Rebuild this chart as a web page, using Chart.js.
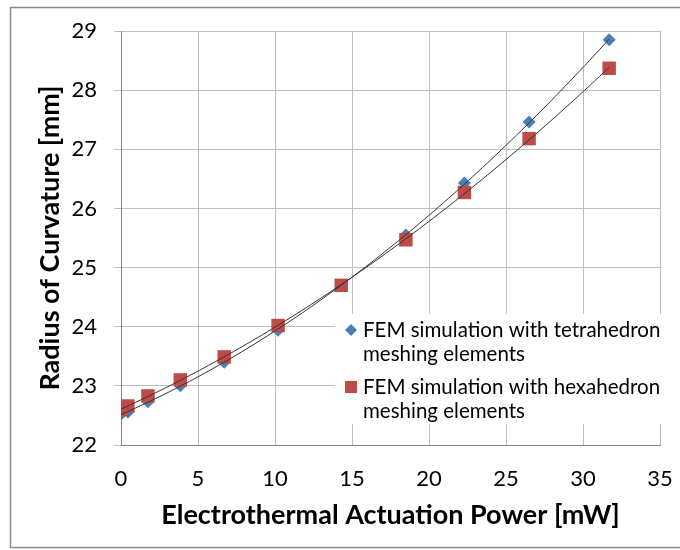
<!DOCTYPE html>
<html>
<head>
<meta charset="utf-8">
<script src="https://cdn.jsdelivr.net/npm/chart.js@4.4.1/dist/chart.umd.min.js"></script>
<style>
  html, body { margin: 0; padding: 0; background: #fff; }
  canvas { display: block; }
</style>
</head>
<body>
<canvas id="curvature-chart" width="680" height="550"></canvas>
<script>
// values
var powerTetra = [0, 0.45, 1.75, 3.85, 6.7, 10.2, 14.3, 18.5, 22.3, 26.5, 31.7];
var radiusTetra = [22.52, 22.56, 22.73, 23.0, 23.4, 23.94, 24.7, 25.55, 26.43, 27.46, 28.85];
var powerHexa = [0, 0.45, 1.75, 3.85, 6.7, 10.2, 14.3, 18.5, 22.3, 26.5, 31.7];
var radiusHexa = [22.6, 22.66, 22.83, 23.1, 23.49, 24.02, 24.7, 25.47, 26.27, 27.18, 28.37];
var seriesNames = [
    ['FEM simulation with tetrahedron', 'meshing elements'],
    ['FEM simulation with hexahedron', 'meshing elements']
];
var xTitle = 'Electrothermal Actuation Power [mW]';
var yTitle = 'Radius of Curvature [mm]';

var blue = '#4a7ebb';
var red = '#be4b48';
var fontName = 'Lato, "Open Sans", sans-serif';

function toPoints(xs, ys) {
    return xs.map(function(x, i) { return {x: x, y: ys[i]}; });
}

// least squares 2nd order polynomial, like the spreadsheet trendline
function quadFit(xs, ys) {
    var s = [0, 0, 0, 0, 0], t = [0, 0, 0];
    for (var i = 0; i < xs.length; i++) {
        var p = 1;
        for (var k = 0; k < 5; k++) {
            s[k] += p;
            if (k < 3) t[k] += p * ys[i];
            p *= xs[i];
        }
    }
    var m = [[s[0], s[1], s[2], t[0]], [s[1], s[2], s[3], t[1]], [s[2], s[3], s[4], t[2]]];
    for (var c = 0; c < 3; c++) {
        for (var r = c + 1; r < 3; r++) {
            var f = m[r][c] / m[c][c];
            for (var j = c; j < 4; j++) m[r][j] -= f * m[c][j];
        }
    }
    var a = [0, 0, 0];
    for (var r2 = 2; r2 >= 0; r2--) {
        var v = m[r2][3];
        for (var j2 = r2 + 1; j2 < 3; j2++) v -= m[r2][j2] * a[j2];
        a[r2] = v / m[r2][r2];
    }
    return a;
}

var trendPlugin = {
    id: 'trendlines',
    afterDatasetsDraw: function(chart) {
        var ctx = chart.ctx, xs = chart.scales.x, ys = chart.scales.y;
        [[powerTetra, radiusTetra], [powerHexa, radiusHexa]].forEach(function(s) {
            var a = quadFit(s[0], s[1]);
            var lo = Math.min.apply(null, s[0]), hi = Math.max.apply(null, s[0]);
            ctx.save();
            ctx.strokeStyle = '#333';
            ctx.lineWidth = 1;
            ctx.beginPath();
            for (var i = 0; i <= 100; i++) {
                var x = lo + (hi - lo) * i / 100;
                var y = a[0] + a[1] * x + a[2] * x * x;
                var px = xs.getPixelForValue(x), py = ys.getPixelForValue(y);
                if (i === 0) ctx.moveTo(px, py); else ctx.lineTo(px, py);
            }
            ctx.stroke();
            ctx.restore();
        });
    }
};

var framePlugin = {
    id: 'frame',
    beforeDraw: function(chart) {
        var ctx = chart.ctx;
        ctx.save();
        ctx.fillStyle = '#fff';
        ctx.fillRect(0, 0, chart.width, chart.height);
        ctx.strokeStyle = '#8c8c8c';
        ctx.lineWidth = 1.5;
        ctx.strokeRect(10.5, 7.5, 720, 540);
        ctx.restore();
    }
};

var legendPlugin = {
    id: 'boxLegend',
    afterDraw: function(chart) {
        var ctx = chart.ctx;
        ctx.save();
        ctx.fillStyle = '#fff';
        ctx.fillRect(335, 314, 345, 110);
        ctx.font = '20.5px ' + fontName;
        ctx.fillStyle = '#000';
        ctx.textBaseline = 'middle';
        var rows = [330, 387];
        seriesNames.forEach(function(lines, i) {
            var y = rows[i];
            ctx.fillText(lines[0], 363, y);
            ctx.fillText(lines[1], 363, y + 24);
        });
        // markers
        ctx.fillStyle = blue;
        ctx.beginPath();
        ctx.moveTo(351, rows[0] - 6);
        ctx.lineTo(357, rows[0]);
        ctx.lineTo(351, rows[0] + 6);
        ctx.lineTo(345, rows[0]);
        ctx.closePath();
        ctx.fill();
        ctx.fillStyle = red;
        ctx.fillRect(345, rows[1] - 6, 12, 12);
        ctx.restore();
    }
};

var ctx = document.getElementById('curvature-chart').getContext('2d');
var curvatureChart = new Chart(ctx, {
    type: 'scatter',
    data: {
        datasets: [{
            label: seriesNames[0].join(' '),
            data: toPoints(powerTetra, radiusTetra),
            pointStyle: 'rectRot',
            pointRadius: 6.5,
            pointHoverRadius: 6.5,
            backgroundColor: blue,
            borderColor: blue,
            borderWidth: 0,
            order: 2
        }, {
            label: seriesNames[1].join(' '),
            data: toPoints(powerHexa, radiusHexa),
            pointStyle: 'rect',
            pointRadius: 9.5,
            pointHoverRadius: 9.5,
            backgroundColor: red,
            borderColor: red,
            borderWidth: 0,
            order: 1
        }]
    },
    options: {
        responsive: false,
        animation: false,
        layout: { padding: { left: 0, top: 31, right: 20, bottom: 0 } },
        plugins: {
            legend: { display: false },
            tooltip: { enabled: false }
        },
        scales: {
            x: {
                type: 'linear',
                min: 0,
                max: 35,
                afterFit: function(scale) {
                    scale.height = 105;
                    scale.paddingLeft = 0;
                    scale.paddingRight = 0;
                },
                ticks: {
                    stepSize: 5,
                    color: '#000',
                    padding: 21,
                    maxRotation: 0,
                    font: { family: fontName, size: 22 }
                },
                grid: { color: '#bfbfbf', drawTicks: false },
                border: { color: '#868686' },
                title: {
                    display: true,
                    text: xTitle,
                    color: '#000',
                    padding: { top: 0, bottom: 19 },
                    font: { family: fontName, size: 27, weight: 'bold' }
                }
            },
            y: {
                type: 'linear',
                min: 22,
                max: 29,
                afterFit: function(scale) {
                    scale.width = 121;
                    scale.paddingTop = 0;
                    scale.paddingBottom = 0;
                },
                ticks: {
                    stepSize: 1,
                    color: '#000',
                    padding: 17,
                    font: { family: fontName, size: 22 }
                },
                grid: { color: '#bfbfbf', tickLength: 7 },
                border: { color: '#868686' },
                title: {
                    display: true,
                    text: yTitle,
                    color: '#000',
                    padding: { top: 34, bottom: 0 },
                    font: { family: fontName, size: 27, weight: 'bold' }
                }
            }
        }
    },
    plugins: [framePlugin, trendPlugin, legendPlugin]
});
</script>
</body>
</html>
